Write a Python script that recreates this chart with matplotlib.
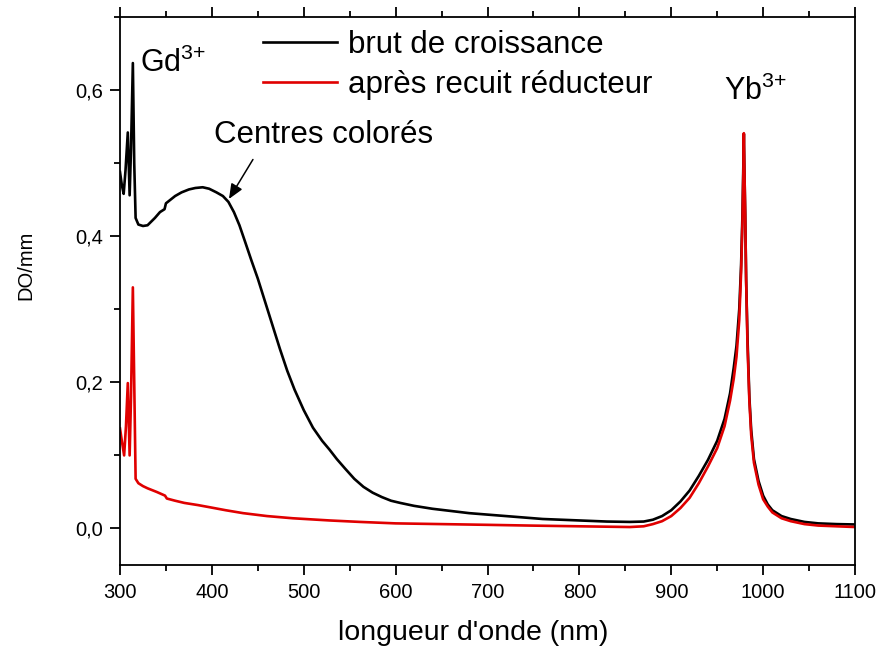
import matplotlib
matplotlib.use("Agg")
import matplotlib.pyplot as plt
from matplotlib.ticker import MultipleLocator, FuncFormatter

plt.rcParams["font.family"] = ["Liberation Sans", "DejaVu Sans"]
plt.rcParams["mathtext.fontset"] = "custom"
plt.rcParams["mathtext.rm"] = "Liberation Sans"
plt.rcParams["mathtext.it"] = "Liberation Sans"

# Absorption spectrum as grown (black)
wl_brut = [300, 302, 304, 306, 308.5, 310.5, 312, 314, 315.5, 317, 320, 325, 330,
           338, 343.5, 348.5, 350, 355, 360, 367, 375, 382, 390, 397, 405, 412,
           418, 424, 430, 436, 443, 450, 458, 466, 474, 482, 490, 500, 510, 520,
           528, 536, 545, 555, 565, 575, 585, 595, 605, 620, 640, 660, 680, 700,
           730, 760, 800, 830, 855, 870, 880, 890, 900, 910, 920, 930, 940, 950,
           958, 964, 968, 971, 974, 976, 977.5, 978.5, 979, 979.5, 980.5, 981.5,
           983, 985, 987, 990, 995, 1000, 1005, 1010, 1020, 1030, 1045, 1060,
           1080, 1100]
do_brut = [0.488, 0.47, 0.458, 0.49, 0.542, 0.456, 0.52, 0.637, 0.50, 0.425, 0.416,
           0.414, 0.415, 0.425, 0.433, 0.437, 0.445, 0.45, 0.455, 0.46, 0.464,
           0.466, 0.467, 0.465, 0.46, 0.455, 0.447, 0.433, 0.415, 0.393, 0.367,
           0.342, 0.31, 0.278, 0.246, 0.216, 0.19, 0.162, 0.138, 0.12, 0.108,
           0.095, 0.082, 0.068, 0.057, 0.049, 0.043, 0.038, 0.035, 0.031, 0.027,
           0.024, 0.021, 0.019, 0.016, 0.013, 0.011, 0.0095, 0.009, 0.0095, 0.012,
           0.017, 0.025, 0.037, 0.052, 0.072, 0.094, 0.12, 0.15, 0.185, 0.22,
           0.25, 0.30, 0.36, 0.43, 0.50, 0.54, 0.50, 0.43, 0.34, 0.26, 0.18,
           0.135, 0.095, 0.065, 0.045, 0.033, 0.025, 0.017, 0.013, 0.009, 0.007,
           0.006, 0.0055]

# Absorption spectrum after reducing anneal (red)
wl_recuit = [300, 302, 304.5, 306.5, 308.5, 310.5, 312, 314, 315.5, 317, 320, 325,
             330, 340, 349, 351, 360, 370, 385, 398, 415, 434, 460, 488, 528, 561,
             600, 650, 700, 746, 800, 855, 870, 880, 890, 900, 910, 920, 930, 940,
             950, 958, 964, 968, 971, 974, 976, 977.5, 978.5, 979, 979.5, 980.5,
             981.5, 983, 985, 987, 990, 995, 1000, 1005, 1010, 1020, 1030, 1045,
             1060, 1080, 1100]
do_recuit = [0.137, 0.12, 0.10, 0.14, 0.199, 0.10, 0.18, 0.33, 0.20, 0.068, 0.062,
             0.058, 0.055, 0.05, 0.045, 0.041, 0.038, 0.035, 0.032, 0.029, 0.025,
             0.021, 0.017, 0.014, 0.011, 0.009, 0.007, 0.006, 0.005, 0.004, 0.003,
             0.002, 0.003, 0.006, 0.01, 0.017, 0.028, 0.042, 0.062, 0.085, 0.11,
             0.14, 0.175, 0.205, 0.235, 0.285, 0.35, 0.42, 0.49, 0.541, 0.50, 0.43,
             0.34, 0.25, 0.175, 0.128, 0.09, 0.06, 0.04, 0.03, 0.022, 0.014, 0.01,
             0.006, 0.004, 0.003, 0.002]

labels = ["brut de croissance", "après recuit réducteur"]
xticks = [300, 400, 500, 600, 700, 800, 900, 1000, 1100]
yticks = [0.0, 0.2, 0.4, 0.6]

fig = plt.figure(figsize=(8.81, 6.47), dpi=100)
ax = fig.add_axes([0.1362, 0.1267, 0.8343, 0.847])

ax.plot(wl_brut, do_brut, color="black", lw=1.9, label=labels[0])
ax.plot(wl_recuit, do_recuit, color="#e00000", lw=1.9, label=labels[1])

ax.set_xlim(300, 1100)
ax.set_ylim(-0.05, 0.70)
ax.set_xticks(xticks)
ax.xaxis.set_minor_locator(MultipleLocator(50))
ax.set_yticks(yticks)
ax.yaxis.set_minor_locator(MultipleLocator(0.1))
ax.yaxis.set_major_formatter(FuncFormatter(lambda v, p: f"{v:.1f}".replace(".", ",")))

ax.tick_params(axis="both", which="both", direction="out", width=1.3, labelsize=14.5)
ax.tick_params(axis="x", which="both", top=True, labeltop=False)
ax.tick_params(axis="x", which="major", pad=6)
ax.tick_params(axis="y", which="major", pad=5)
ax.tick_params(axis="both", which="major", length=7)
ax.tick_params(axis="both", which="minor", length=4)
ax.tick_params(axis="y", which="both", right=False)
for s in ax.spines.values():
    s.set_linewidth(1.3)

ax.set_xlabel("longueur d'onde (nm)", fontsize=20.5)
ax.xaxis.set_label_coords(0.480, -0.0995)
ax.set_ylabel("DO/mm", fontsize=14.5)
ax.yaxis.set_label_coords(-0.1156, 0.546)

leg = ax.legend(loc="upper left", bbox_to_anchor=(0.1946, 0.977), frameon=False,
                fontsize=22.5, handlelength=2.37, handletextpad=0.35,
                labelspacing=0.34, borderaxespad=0.0, borderpad=0.0)
for line in leg.get_lines():
    line.set_linewidth(1.9)

ax.text(322, 0.625, r"Gd$^{3{+}}$", fontsize=22, ha="left", va="baseline")
ax.text(957, 0.586, r"Yb$^{3{+}}$", fontsize=22, ha="left", va="baseline")
ax.text(402, 0.527, "Centres colorés", fontsize=22.5, ha="left", va="baseline")
ax.annotate("", xy=(418.6, 0.451), xytext=(444.7, 0.505),
            arrowprops=dict(arrowstyle="-|>,head_length=0.9,head_width=0.38",
                            color="black", lw=1.1, shrinkA=0, shrinkB=0))

fig.savefig("out.png", dpi=100)
